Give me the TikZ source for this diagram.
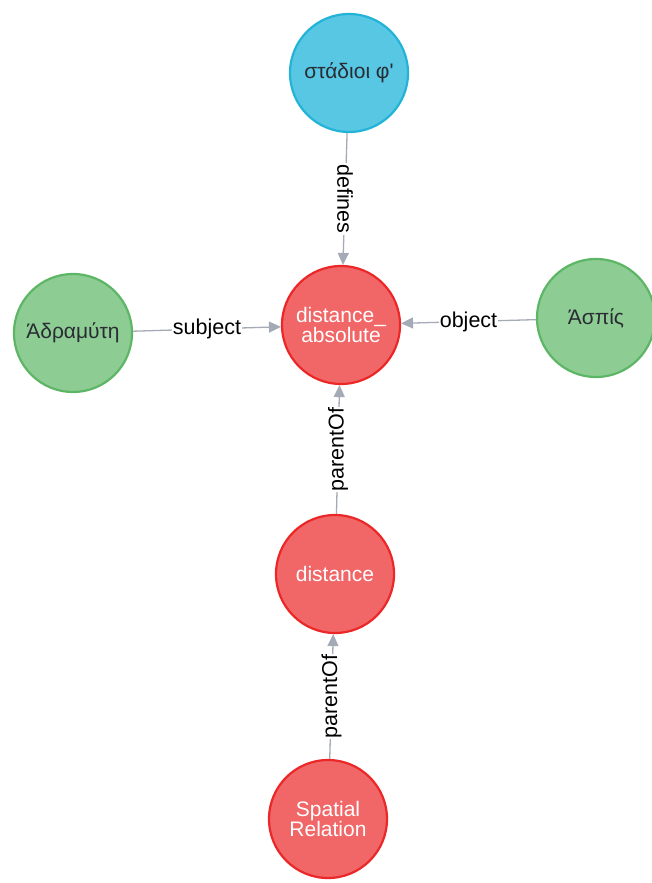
\documentclass[tikz,border=0pt]{standalone}
\usepackage{fontspec}
\setmainfont{Liberation Sans}[Ligatures=TeXOff]
\usetikzlibrary{arrows.meta}
\definecolor{nodeblue}{HTML}{57C7E3}
\definecolor{nodebluedark}{HTML}{23B3D7}
\definecolor{nodered}{HTML}{F16667}
\definecolor{noderedark}{HTML}{EB2728}
\definecolor{nodegreen}{HTML}{8DCC93}
\definecolor{nodegreendark}{HTML}{5DB665}
\definecolor{edgegray}{HTML}{A5ABB6}
\definecolor{textdark}{HTML}{2A2C34}
\begin{document}
\begin{tikzpicture}[x=1pt, y=-1pt, base node/.style={circle, minimum size=118pt, inner sep=0pt, line width=2.2pt, align=center, font=\fontsize{21}{17.5}\selectfont},term node/.style={base node, draw=nodebluedark, fill=nodeblue, text=textdark},concept node/.style={base node, draw=noderedark, fill=nodered, text=white},place node/.style={base node, draw=nodegreendark, fill=nodegreen, text=textdark},edge/.style={draw=edgegray, line width=1.3pt, -{Triangle[length=12pt, width=11pt]}},edge label/.style={fill=white, inner sep=1pt, text=black, font=\fontsize{21.5}{21.5}\selectfont}]%
\path[use as bounding box] (0,0) rectangle (652,883);%
  % Nodes%
\node[term node] (stadioi) at (349,73) {στάδιοι φ'};%
\node[concept node] (distabs) at (341,325) {distance\_\\absolute};%
\node[place node] (adramyti) at (73,333) {Άδραμύτη};%
\node[place node] (aspis) at (596,318) {Άσπίς};%
\node[concept node] (distance) at (335,574) {distance};%
\node[concept node] (spatial) at (328,819) {Spatial\\Relation};%
  % Relations%
\draw[edge] (stadioi) -- node[edge label, rotate=-90] {defines} (distabs);%
\draw[edge] (adramyti) -- node[edge label] {subject} (distabs);%
\draw[edge] (aspis) -- node[edge label] {object} (distabs);%
\draw[edge] (distance) -- node[edge label, rotate=90] {parentOf} (distabs);%
\draw[edge] (spatial) -- node[edge label, rotate=90] {parentOf} (distance);%
\end{tikzpicture}
\end{document}
